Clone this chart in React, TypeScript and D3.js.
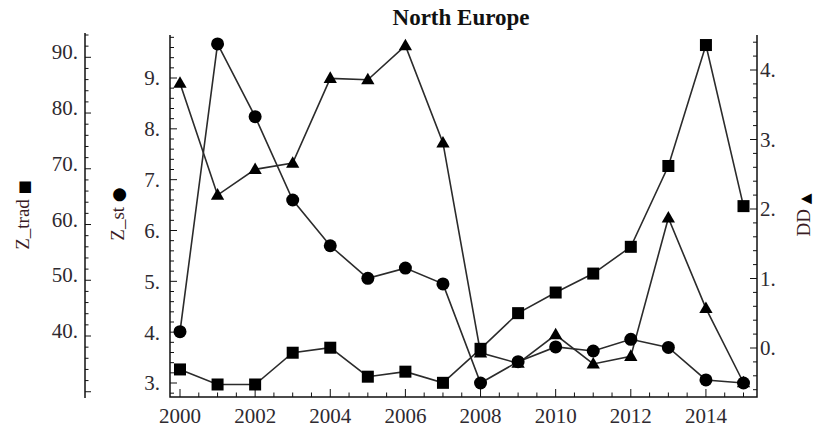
import React from 'react'
import * as d3 from 'd3'

// values
const years = [2000, 2001, 2002, 2003, 2004, 2005, 2006, 2007, 2008, 2009, 2010, 2011, 2012, 2013, 2014, 2015]
const zTrad = [34.0, 31.3, 31.3, 37.0, 37.9, 32.7, 33.6, 31.6, 37.7, 44.1, 47.8, 51.2, 56.0, 70.5, 92.2, 63.3]
const zSt = [4.01, 9.67, 8.24, 6.6, 5.7, 5.06, 5.26, 4.95, 3.0, 3.42, 3.71, 3.63, 3.86, 3.7, 3.06, 3.0]
const dd = [3.81, 2.2, 2.57, 2.66, 3.88, 3.86, 4.35, 2.95, -0.07, -0.22, 0.19, -0.23, -0.12, 1.87, 0.57, -0.5]

const yearTicks = [2000, 2002, 2004, 2006, 2008, 2010, 2012, 2014]
const tradTicks = [40, 50, 60, 70, 80, 90]
const stTicks = [3, 4, 5, 6, 7, 8, 9]
const ddTicks = [0, 1, 2, 3, 4]

const W = 814
const H = 429
const frame = { left: 170, right: 757, top: 35, bottom: 397 }
const tradAxisX = 85

const lineColor = '#2b2b2b'
const labelColor = '#2e2a30'
const titleColor = '#3a1c24'
const font = '"Liberation Serif", "Times New Roman", serif'
const symFont = '"DejaVu Sans", sans-serif'

export default function App() {
  const x = d3.scaleLinear().domain([2000, 2015]).range([180, 743.5])
  const yTrad = d3.scaleLinear().domain([40, 90]).range([336, 57.3])
  const ySt = d3.scaleLinear().domain([3, 9]).range([383, 78])
  const yDD = d3.scaleLinear().domain([0, 4]).range([348, 70])

  const inFrame = (y: number) => y >= frame.top && y <= frame.bottom

  const line = (vals: number[], y: d3.ScaleLinear<number, number>) =>
    d3.line<number>().x((_, i) => x(years[i])).y(v => y(v))(vals) || ''

  // minor ticks
  const xMinor = d3.range(2000, 2015.01, 0.5)
  const tradMinor = d3.range(30, 95, 2).filter(v => inFrame(yTrad(v)))
  const stMinor = d3.range(28, 99, 2).map(v => v / 10).filter(v => inFrame(ySt(v)))
  const ddMinor = d3.range(-6, 45, 2).map(v => v / 10).filter(v => inFrame(yDD(v)))

  const tri = (cx: number, cy: number, s = 7) =>
    `M${cx},${cy - s} L${cx + s * 0.95},${cy + s * 0.65} L${cx - s * 0.95},${cy + s * 0.65} Z`

  return (
    <svg width={W} height={H} style={{ position: 'absolute', left: 0, top: 0, background: '#fff' }}
      fontFamily={font}>
      {/* title */}
      <text x={461} y={25} textAnchor="middle" fontSize={23} fontWeight="bold" fill="#111">North Europe</text>

      {/* outer Z_trad axis */}
      <line x1={tradAxisX} x2={tradAxisX} y1={33} y2={398} stroke="#111" strokeWidth={1.5} />
      {tradMinor.map(v => (
        <line key={'tm' + v} x1={tradAxisX} x2={tradAxisX + (v % 10 === 0 ? 6 : 3.5)}
          y1={yTrad(v)} y2={yTrad(v)} stroke="#111" strokeWidth={1} />
      ))}
      {tradTicks.map(v => (
        <text key={'tt' + v} x={78} y={yTrad(v)} dy="0.1em" textAnchor="end" fontSize={21} fill={labelColor}>{v}.</text>
      ))}

      {/* frame */}
      <path d={`M${frame.left},${frame.top} V${frame.bottom} H${frame.right} V${frame.top}`}
        fill="none" stroke="#111" strokeWidth={1.5} />

      {/* bottom ticks */}
      {xMinor.map(v => (
        <line key={'xm' + v} x1={x(v)} x2={x(v)} y1={frame.bottom}
          y2={frame.bottom - (v % 2 === 0 ? 8 : 4.5)} stroke="#111" strokeWidth={1} />
      ))}
      {yearTicks.map(v => (
        <text key={'xl' + v} x={x(v)} y={423} textAnchor="middle" fontSize={21} fill={labelColor}>{v}</text>
      ))}

      {/* left (Z_st) ticks */}
      {stMinor.map(v => (
        <line key={'sm' + v} x1={frame.left} x2={frame.left + (Math.abs(v - Math.round(v)) < 1e-6 ? 7 : 4)}
          y1={ySt(v)} y2={ySt(v)} stroke="#111" strokeWidth={1} />
      ))}
      {stTicks.map(v => (
        <text key={'sl' + v} x={160} y={ySt(v)} dy="0.35em" textAnchor="end" fontSize={21} fill={labelColor}>{v}.</text>
      ))}

      {/* right (DD) ticks */}
      {ddMinor.map(v => (
        <line key={'dm' + v} x1={frame.right} x2={frame.right - (Math.abs(v - Math.round(v)) < 1e-6 ? 7 : 4)}
          y1={yDD(v)} y2={yDD(v)} stroke="#111" strokeWidth={1} />
      ))}
      {ddTicks.map(v => (
        <text key={'dl' + v} x={760} y={yDD(v)} dy="0.35em" textAnchor="start" fontSize={21} fill={labelColor}>{v}.</text>
      ))}

      {/* axis titles */}
      <text transform="translate(29,215) rotate(-90)" textAnchor="middle" fontSize={19} fill={titleColor}>
        Z_trad <tspan fontFamily={symFont} fontSize={15} fill="#000">■</tspan>
      </text>
      <text transform="translate(124,214) rotate(-90)" textAnchor="middle" fontSize={19} fill={titleColor}>
        Z_st <tspan fontFamily={symFont} fontSize={17} fill="#000">●</tspan>
      </text>
      <text transform="translate(810,215) rotate(-90)" textAnchor="middle" fontSize={19} fill={titleColor}>
        DD <tspan fontFamily={symFont} fontSize={14} fill="#000">▲</tspan>
      </text>

      {/* series lines */}
      <path d={line(zSt, ySt)} fill="none" stroke={lineColor} strokeWidth={1.6} />
      <path d={line(zTrad, yTrad)} fill="none" stroke={lineColor} strokeWidth={1.6} />
      <path d={line(dd, yDD)} fill="none" stroke={lineColor} strokeWidth={1.6} />

      {/* markers */}
      {zSt.map((v, i) => (
        <circle key={'c' + i} cx={x(years[i])} cy={ySt(v)} r={6.5} fill="#000" />
      ))}
      {zTrad.map((v, i) => (
        <rect key={'s' + i} x={x(years[i]) - 6} y={yTrad(v) - 6} width={12} height={12} fill="#000" />
      ))}
      {dd.map((v, i) => (
        <path key={'t' + i} d={tri(x(years[i]), yDD(v))} fill="#000" />
      ))}
    </svg>
  )
}
